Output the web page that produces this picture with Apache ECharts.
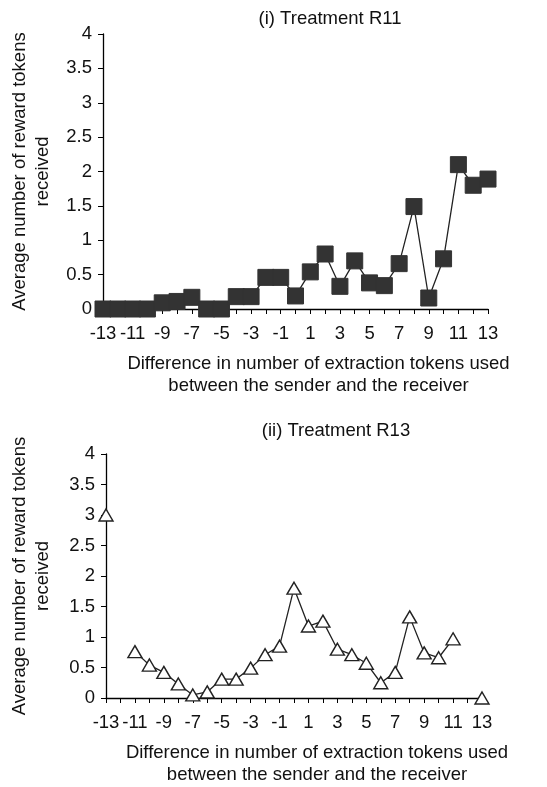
<!DOCTYPE html>
<html>
<head>
<meta charset="utf-8">
<script src="https://cdn.jsdelivr.net/npm/echarts@6/dist/echarts.min.js"></script>
<style>
  html, body { margin: 0; padding: 0; background: #fff; }
  #main { width: 547px; height: 787px; }
</style>
</head>
<body>
<div id="main"></div>
<script>
// x categories: difference in extraction tokens (sender - receiver)
var categories = ['-13', '-12', '-11', '-10', '-9', '-8', '-7', '-6', '-5', '-4', '-3', '-2', '-1', '0',
  '1', '2', '3', '4', '5', '6', '7', '8', '9', '10', '11', '12', '13'];
var yTicks = [0, 0.5, 1, 1.5, 2, 2.5, 3, 3.5, 4];
// (i) Treatment R11
var r11Values = [0, 0, 0, 0, 0.09, 0.11, 0.17, 0, 0, 0.18, 0.18, 0.46, 0.46, 0.19,
  0.54, 0.80, 0.33, 0.70, 0.38, 0.34, 0.66, 1.49, 0.16, 0.73, 2.10, 1.80, 1.89];
// (ii) Treatment R13 (null = no observation)
var r13Values = [3.0, null, 0.76, 0.54, 0.42, 0.23, 0.05, 0.10, 0.31, 0.31, 0.49, 0.71, 0.85, 1.80,
  1.18, 1.26, 0.80, 0.71, 0.57, 0.25, 0.42, 1.33, 0.74, 0.66, 0.97, null, 0];

var titles = ['(i) Treatment R11', '(ii) Treatment R13'];
var xName = 'Difference in number of extraction tokens used\nbetween the sender and the receiver';
var yName = 'Average number of reward tokens\nreceived';

var font = "'Liberation Sans', Arial, sans-serif";
var fs = 18.5;
var ink = '#222';

function xAxisFor(idx) {
  return {
    type: 'category',
    gridIndex: idx,
    data: categories,
    boundaryGap: false,
    axisLine: { lineStyle: { color: '#000', width: 1.3 } },
    axisTick: { show: true, interval: 0, length: 5, lineStyle: { color: '#000' } },
    axisLabel: { interval: 1, color: '#111', fontSize: fs, fontFamily: font, margin: 15 },
    splitLine: { show: false },
    name: xName,
    nameLocation: 'middle',
    nameGap: 44,
    nameTextStyle: { color: '#111', fontSize: fs, fontFamily: font, lineHeight: 22, padding: [0, 0, 0, 46] }
  };
}

function yAxisFor(idx, gap) {
  return {
    type: 'value',
    gridIndex: idx,
    min: 0,
    max: 4,
    interval: 0.5,
    axisLine: { show: true, lineStyle: { color: '#000', width: 1.3 } },
    axisTick: { show: true, length: 5, lineStyle: { color: '#000' } },
    axisLabel: {
      color: '#111', fontSize: fs, fontFamily: font, margin: 11,
      formatter: function (v) { return yTicks.indexOf(v) >= 0 ? String(v) : ''; }
    },
    splitLine: { show: false },
    name: yName,
    nameLocation: 'middle',
    nameGap: gap,
    nameTextStyle: { color: '#111', fontSize: fs, fontFamily: font, lineHeight: 23 }
  };
}

var chart = echarts.init(document.getElementById('main'), null, { renderer: 'canvas' });
var option = {
  backgroundColor: '#fff',
  animation: false,
  title: [
    { text: titles[0], left: 325, top: 4, textAlign: 'center',
      textStyle: { fontSize: fs, fontWeight: 'normal', color: '#111', fontFamily: font } },
    { text: titles[1], left: 331, top: 416, textAlign: 'center',
      textStyle: { fontSize: fs, fontWeight: 'normal', color: '#111', fontFamily: font } }
  ],
  grid: [
    { left: 103, right: 59, top: 34, bottom: 478 },
    { left: 106, right: 65, top: 454, bottom: 85 }
  ],
  xAxis: [xAxisFor(0), xAxisFor(1)],
  yAxis: [yAxisFor(0, 49), yAxisFor(1, 52)],
  series: [
    {
      type: 'line',
      xAxisIndex: 0,
      yAxisIndex: 0,
      data: r11Values,
      showAllSymbol: true,
      symbol: 'rect',
      symbolSize: 16,
      lineStyle: { color: ink, width: 1.3 },
      itemStyle: { color: '#333', borderColor: '#333' }
    },
    {
      type: 'line',
      xAxisIndex: 1,
      yAxisIndex: 1,
      data: r13Values,
      showAllSymbol: true,
      connectNulls: false,
      symbol: 'triangle',
      symbolSize: [14, 12],
      lineStyle: { color: ink, width: 1.3 },
      itemStyle: { color: '#fff', borderColor: ink, borderWidth: 1.4 }
    }
  ]
};
chart.setOption(option);
</script>
</body>
</html>
